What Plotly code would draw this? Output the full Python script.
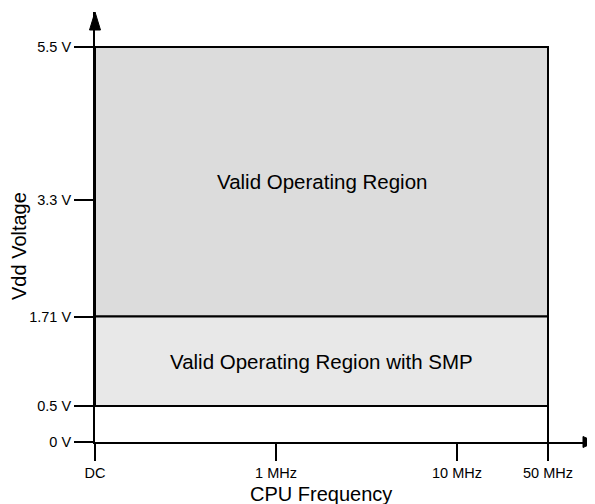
import plotly.graph_objects as go

# chart content
voltage_labels = ["0 V", "0.5 V", "1.71 V", "3.3 V", "5.5 V"]
freq_labels = ["DC", "1 MHz", "10 MHz", "50 MHz"]
region_names = ["Valid Operating Region", "Valid Operating Region with SMP"]
region_low = ["1.71 V", "0.5 V"]
region_high = ["5.5 V", "1.71 V"]
region_colors = ["#dcdcdc", "#e8e8e8"]

# schematic (not to scale) axis positions
v_pos = dict(zip(voltage_labels, [0, 36, 125.5, 242, 395]))
f_pos = dict(zip(freq_labels, [0, 181, 362, 453]))
X_MAX, Y_MAX = 500, 430

FONT = "Arial, Liberation Sans, sans-serif"

fig = go.Figure()

x_right = f_pos[freq_labels[-1]]
for name, lo, hi, col in zip(region_names, region_low, region_high, region_colors):
    y0, y1 = v_pos[lo], v_pos[hi]
    fig.add_trace(go.Scatter(
        x=[0, x_right, x_right, 0, 0],
        y=[y0, y0, y1, y1, y0],
        mode="lines", fill="toself", fillcolor=col,
        line=dict(color="black", width=2),
        hoverinfo="skip", showlegend=False,
    ))
    fig.add_annotation(x=x_right / 2, y=(y0 + y1) / 2, text=name, showarrow=False,
                       font=dict(family=FONT, size=20.5, color="black"))

# vertical line of the max frequency down to the x axis
fig.add_trace(go.Scatter(
    x=[x_right, x_right], y=[v_pos["0 V"], v_pos["0.5 V"]],
    mode="lines", line=dict(color="black", width=2),
    hoverinfo="skip", showlegend=False,
))

# arrowheads on the axes
fig.add_shape(type="path", xref="x domain", yref="y domain",
              path=f"M {-5.5/X_MAX} {1-18/Y_MAX} L {5.5/X_MAX} {1-18/Y_MAX} L 0 1 Z",
              fillcolor="black", line=dict(color="black", width=1))
fig.add_shape(type="path", xref="x domain", yref="y domain",
              path=f"M {1-12/X_MAX} {-5.5/Y_MAX} L {1-12/X_MAX} {5.5/Y_MAX} L 1 0 Z",
              fillcolor="black", line=dict(color="black", width=1))

fig.add_annotation(xref="paper", yref="paper", x=-76 / X_MAX, y=196 / Y_MAX,
                   xanchor="center", yanchor="middle",
                   text="Vdd Voltage", textangle=-90, showarrow=False,
                   font=dict(family=FONT, size=20, color="black"))
fig.add_annotation(xref="paper", yref="paper", x=226 / X_MAX, y=-52 / Y_MAX,
                   xanchor="center", yanchor="middle",
                   text="CPU Frequency", showarrow=False,
                   font=dict(family=FONT, size=20, color="black"))

fig.update_xaxes(range=[0, X_MAX], showgrid=False, zeroline=False, automargin=False,
                 showline=True, linecolor="black", linewidth=2,
                 tickvals=[f_pos[f] for f in freq_labels], ticktext=freq_labels,
                 ticks="outside", ticklen=17, tickwidth=2, tickcolor="black",
                 tickfont=dict(family=FONT, size=14.5, color="black"))
fig.update_yaxes(range=[0, Y_MAX], showgrid=False, zeroline=False, automargin=False,
                 showline=True, linecolor="black", linewidth=2,
                 tickvals=[v_pos[v] for v in voltage_labels], ticktext=voltage_labels,
                 ticks="outside", ticklen=19, tickwidth=2, tickcolor="black",
                 tickfont=dict(family=FONT, size=14.5, color="black"))

# page body has an 8px margin, so the figure is sized/offset to land on the window
fig.update_layout(
    width=587, height=496,
    margin=dict(l=87, r=0, t=4, b=62),
    plot_bgcolor="white", paper_bgcolor="white",
)

fig.write_html("out.html")
